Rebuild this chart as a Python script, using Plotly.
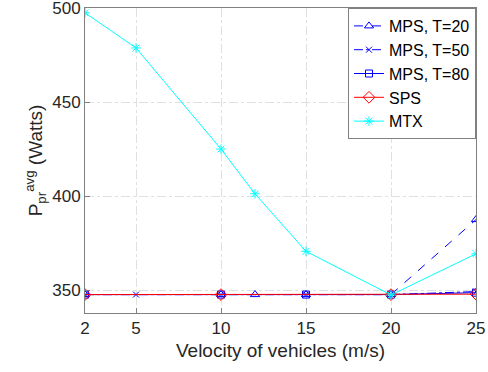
import plotly.graph_objects as go

x_t20 = [2, 10, 12, 15, 20, 25]
y_t20 = [347.6, 347.6, 347.6, 347.6, 347.6, 387.5]
x_t50 = [2, 5, 10, 15, 20, 25]
y_t50 = [347.6, 347.6, 347.6, 347.6, 347.6, 349.2]
x_t80 = [2, 10, 15, 20, 25]
y_t80 = [347.6, 347.6, 347.6, 347.6, 348.6]
x_sps = [2, 10, 20, 25]
y_sps = [347.6, 347.6, 347.6, 347.8]
x_mtx = [2, 5, 10, 12, 15, 20, 25]
y_mtx = [497.5, 478.8, 425.0, 401.2, 370.6, 347.4, 369.3]

x_ticks = [2, 5, 10, 15, 20, 25]
y_ticks = [350, 400, 450, 500]

fig = go.Figure()
fig.add_trace(go.Scatter(x=x_t20, y=y_t20, name="MPS, T=20", mode="lines+markers",
                         line=dict(color="#0000FF", width=1, dash="dash"),
                         marker=dict(symbol="triangle-up-open", size=8, color="#0000FF")))
fig.add_trace(go.Scatter(x=x_t50, y=y_t50, name="MPS, T=50", mode="lines+markers",
                         line=dict(color="#0000FF", width=1, dash="dashdot"),
                         marker=dict(symbol="x-thin-open", size=6, color="#0000FF", line=dict(width=1, color="#0000FF"))))
fig.add_trace(go.Scatter(x=x_t80, y=y_t80, name="MPS, T=80", mode="lines+markers",
                         line=dict(color="#0000FF", width=1),
                         marker=dict(symbol="square-open", size=7, color="#0000FF")))
fig.add_trace(go.Scatter(x=x_sps, y=y_sps, name="SPS", mode="lines+markers",
                         line=dict(color="#FF0000", width=1),
                         marker=dict(symbol="diamond-open", size=9, color="#FF0000")))
fig.add_trace(go.Scatter(x=x_mtx, y=y_mtx, name="MTX", mode="lines+markers",
                         line=dict(color="#00FFFF", width=1),
                         marker=dict(symbol="asterisk-open", size=8, color="#00FFFF", line=dict(width=1, color="#00FFFF"))))

axis_common = dict(showline=True, linecolor="#808080", linewidth=1, mirror=True,
                   ticks="inside", ticklen=5, tickcolor="#808080",
                   showgrid=True, gridcolor="#e0e0e0", griddash="dashdot", gridwidth=1,
                   zeroline=False, ticklabeloverflow="allow", automargin=False,
                   tickfont=dict(size=17, color="#262626", family="Arial"))

fig.update_layout(
    width=488, height=372,
    margin=dict(l=85, r=12, t=8, b=59),
    paper_bgcolor="white", plot_bgcolor="white",
    font=dict(family="Arial", color="#262626"),
    xaxis=dict(range=[2, 25], tickvals=x_ticks,
               title=dict(text="Velocity of vehicles (m/s)", font=dict(size=19), standoff=6),
               **axis_common),
    yaxis=dict(range=[337.8, 500.05], tickvals=y_ticks,
               title=dict(text="P<sub>pr</sub><sup>avg</sup> (Watts)", font=dict(size=19), standoff=4),
               **axis_common),
    legend=dict(x=1, y=1, xanchor="right", yanchor="top", bgcolor="white",
                bordercolor="#808080", borderwidth=1, font=dict(size=16, color="#000000"),
                tracegroupgap=0, itemwidth=30),
    showlegend=True,
)

fig.write_html("out.html")
